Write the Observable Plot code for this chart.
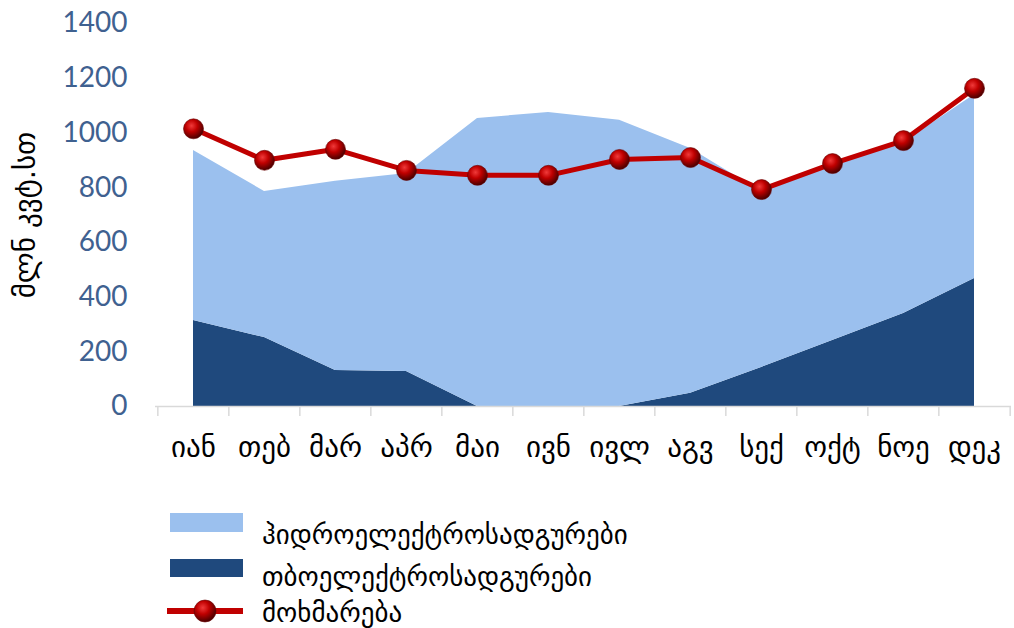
<!DOCTYPE html>
<html><head><meta charset="utf-8">
<script src="https://cdn.jsdelivr.net/npm/d3@7"></script>
<script src="https://cdn.jsdelivr.net/npm/@observablehq/plot@0.6"></script>
<style>
body{margin:0;background:#fff;}
#wrap{position:relative;width:1014px;height:628px;}
#legend{position:absolute;left:0;top:470px;width:1014px;height:158px;font-family:"DejaVu Sans",sans-serif;font-size:27px;color:#000;}
.sw{position:absolute;}
.lt{position:absolute;line-height:28px;white-space:nowrap;}
</style></head><body><div id="wrap"><div id="chart"></div><div id="legend"></div></div>
<script>
const months = ["იან","თებ","მარ","აპრ","მაი","ივნ","ივლ","აგვ","სექ","ოქტ","ნოე","დეკ"];
const hydro = [622,534,691,724,1053,1075,1046,895,642,639,625,672];
const thermal = [314,252,132,128,0,0,0,48,143,241,340,468];
const consumption = [1015,900,940,863,845,845,903,910,793,888,972,1163];
const yTicks = [0,200,400,600,800,1000,1200,1400];
const seriesNames = ["ჰიდროელექტროსადგურები","თბოელექტროსადგურები","მოხმარება"];
const seriesColors = ["#9bc0ee","#1f497d","#c00000"];
const yLabel = "მლნ კვტ.სთ";

const W = 1014, H = 470, ML = 155, MR = 3, MT = 23, MB = 64;
const step = (W - ML - MR) / months.length;

const rows = [];
months.forEach((m, i) => {
  rows.push({month: m, series: seriesNames[1], value: thermal[i]});
  rows.push({month: m, series: seriesNames[0], value: hydro[i]});
});

const chart = Plot.plot({
  width: W, height: H,
  marginLeft: ML, marginRight: MR, marginTop: MT, marginBottom: MB,
  style: {fontFamily: "DejaVu Sans", background: "#fff"},
  x: {type: "point", domain: months, padding: 0.5, label: null},
  y: {domain: [0, 1400], label: null},
  color: {domain: seriesNames.slice(0, 2), range: seriesColors.slice(0, 2)},
  marks: [
    Plot.areaY(rows, {x: "month", y: "value", fill: "series", order: [seriesNames[1], seriesNames[0]]}),
    Plot.ruleY([0], {stroke: "#d9d9d9", strokeWidth: 1.5}),
    Plot.axisX({tickSize: 10, tickFormat: () => "", dx: -step / 2, stroke: "#d9d9d9", strokeWidth: 1.5, label: null}),
    Plot.axisX([months[months.length - 1]], {tickSize: 10, tickFormat: () => "", dx: step / 2, stroke: "#d9d9d9", strokeWidth: 1.5, label: null}),
    Plot.axisX({tickSize: 0, tickPadding: 30, fontSize: 29, fontFamily: "DejaVu Sans", color: "#000", label: null}),
    Plot.axisY({ticks: yTicks, tickFormat: d => String(d), tickSize: 0, tickPadding: 28, fontSize: 28, fontFamily: "Lato", color: "#3f6190", label: null}),
    Plot.text([yLabel], {frameAnchor: "left", textAnchor: "middle", rotate: -90, dx: -130, fontSize: 29, fontFamily: "DejaVu Sans", fill: "#000"}),
    Plot.lineY(consumption, {x: months, stroke: seriesColors[2], strokeWidth: 5}),
    Plot.dot(consumption, {x: months, y: d => d, r: 10, fill: "url(#ball)", stroke: "#6a0000", strokeWidth: 0.6})
  ]
});

const defs = `<defs><radialGradient id="ball" cx="40%" cy="35%" r="65%">
<stop offset="0%" stop-color="#f03a3a"/><stop offset="45%" stop-color="#c00000"/><stop offset="100%" stop-color="#4a0000"/>
</radialGradient></defs>`;
chart.insertAdjacentHTML("afterbegin", defs);
document.getElementById("chart").appendChild(chart);

// Legend
const lg = document.getElementById("legend");
const legendRows = [
  {name: seriesNames[0], color: seriesColors[0], kind: "area", top: 43, h: 19, textTop: 51},
  {name: seriesNames[1], color: seriesColors[1], kind: "area", top: 89, h: 18, textTop: 93},
  {name: seriesNames[2], color: seriesColors[2], kind: "line", top: 140, textTop: 129}
];
legendRows.forEach(r => {
  const s = document.createElement("div");
  s.className = "sw";
  if (r.kind === "area") {
    s.style.cssText = `left:170px;top:${r.top}px;width:73px;height:${r.h}px;background:${r.color}`;
  } else {
    s.style.cssText = `left:167px;top:${r.top - 12}px;width:76px;height:24px`;
    s.innerHTML = `<svg width="76" height="24"><defs><radialGradient id="ball2" cx="40%" cy="35%" r="65%"><stop offset="0%" stop-color="#f03a3a"/><stop offset="45%" stop-color="#c00000"/><stop offset="100%" stop-color="#4a0000"/></radialGradient></defs><line x1="0" x2="76" y1="12" y2="12" stroke="${r.color}" stroke-width="6"/><circle cx="38" cy="12" r="11" fill="url(#ball2)" stroke="#6a0000" stroke-width="0.6"/></svg>`;
  }
  lg.appendChild(s);
  const t = document.createElement("div");
  t.className = "lt";
  t.style.cssText = `left:262px;top:${r.textTop}px`;
  t.textContent = r.name;
  lg.appendChild(t);
});
</script></body></html>
